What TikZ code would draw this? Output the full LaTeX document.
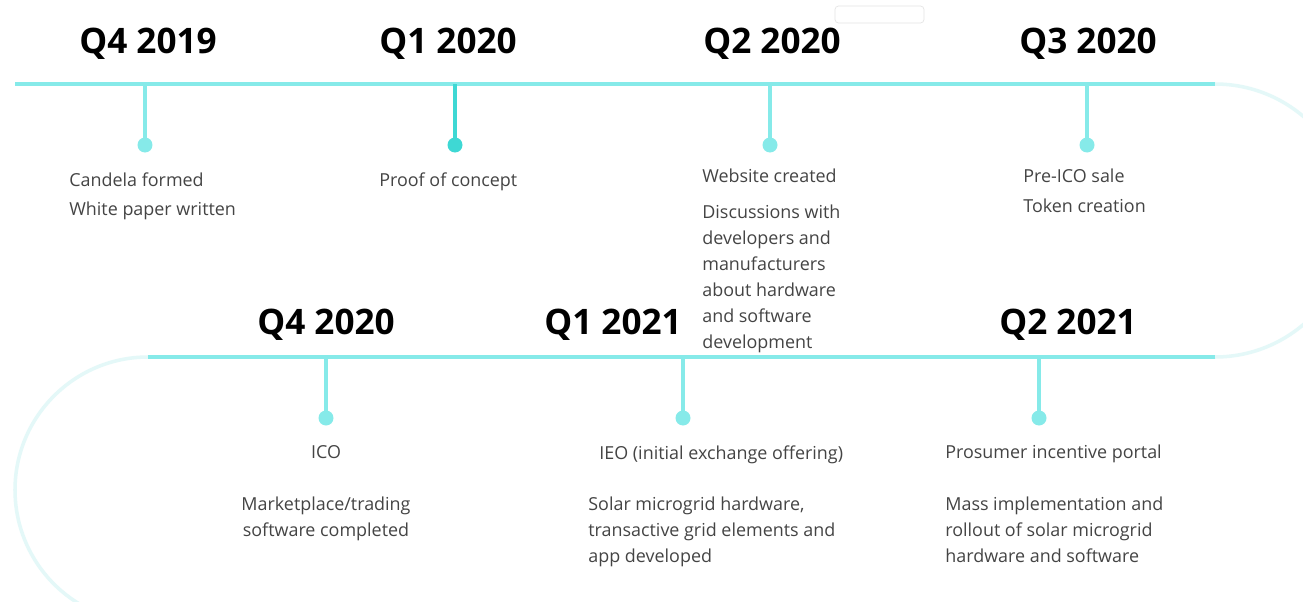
\documentclass[tikz,border=0pt]{standalone}
\usepackage{fontspec}
\setmainfont{Open Sans}
\usepackage{tikz}
\definecolor{tealline}{HTML}{86EAE9}
\definecolor{tealdark}{HTML}{3ED8D4}
\definecolor{tealfaint}{HTML}{E4F8F8}
\definecolor{bodygray}{HTML}{444444}

\begin{document}
\begin{tikzpicture}[x=0.02cm,y=-0.02cm,
    quarter/.style={font=\fontsize{20}{24}\selectfont\bfseries, anchor=base, inner sep=0pt},
    item/.style={font=\fontsize{10.2}{14.8}\selectfont, text=bodygray, inner sep=0pt, align=left, anchor=north west},
    itemc/.style={item, align=center, anchor=north},
    dot/.style={circle, fill=tealline, inner sep=0pt, minimum size=0.3cm},
    stem/.style={draw=tealline, line width=2.1pt},
    track/.style={draw=tealline, line width=2.8pt},
    loopline/.style={draw=tealfaint, line width=2pt}]
            \useasboundingbox (0,0) rectangle (1303,602);
            \fill[white] (0,0) rectangle (1303,602);

            % faint bends joining the two rows
            \begin{scope}
                \clip (0,0) rectangle (1303,602);
                \draw[loopline] (1215,84) arc[start angle=-90, end angle=90, radius=136.5];
                \draw[loopline] (148,357) arc[start angle=-90, end angle=-250, radius=133];
            \end{scope}
            \draw[gray!20, rounded corners=2pt] (835,6) rectangle (924,23);

            % upper row
            \coordinate (ta) at (15,84);
            \coordinate (tb) at (1215,84);
            \draw[track] (ta) -- (tb);
            \coordinate (t1) at (145,84);
            \coordinate (t2) at (455,84);
            \coordinate (t3) at (770,84);
            \coordinate (t4) at (1087,84);
            \node[dot] (d1) at (145,145) {};
            \node[dot, fill=tealdark] (d2) at (455,145) {};
            \node[dot] (d3) at (770,145) {};
            \node[dot] (d4) at (1087,145) {};
            \draw[stem] (t1) -- (d1.center);
            \draw[stem, draw=tealdark] (t2) -- (d2.center);
            \draw[stem] (t3) -- (d3.center);
            \draw[stem] (t4) -- (d4.center);

            \node[quarter] (q1) at (148,53) {Q4 2019};
            \node[quarter] (q2) at (448,53) {Q1 2020};
            \node[quarter] (q3) at (772,53) {Q2 2020};
            \node[quarter] (q4) at (1088,53) {Q3 2020};

            \node[item] (c1) at (69,172) {Candela formed\\[2pt]White paper written};
            \node[item] (c2) at (379,172) {Proof of concept};
            \node[item] (c3) at (702,169) {Website created};
            \node[item] (c3b) at (702,205) {Discussions with\\developers and\\manufacturers\\about hardware\\and software\\development};
            \node[item] (c4) at (1023,169) {Pre-ICO sale\\[2pt]Token creation};

            % lower row
            \coordinate (ba) at (148,357);
            \coordinate (bb) at (1215,357);
            \draw[track] (ba) -- (bb);
            \coordinate (b5) at (326,357);
            \coordinate (b6) at (683,357);
            \coordinate (b7) at (1039,357);
            \node[dot] (d5) at (326,418) {};
            \node[dot] (d6) at (683,418) {};
            \node[dot] (d7) at (1039,418) {};
            \draw[stem] (b5) -- (d5.center);
            \draw[stem] (b6) -- (d6.center);
            \draw[stem] (b7) -- (d7.center);

            \node[quarter] (q5) at (326,334) {Q4 2020};
            \node[quarter] (q6) at (613,334) {Q1 2021};
            \node[quarter] (q7) at (1068,334) {Q2 2021};

            \node[itemc] (c5) at (326,445) {ICO};
            \node[itemc] (c5b) at (326,497) {Marketplace/trading\\software completed};
            \node[item] (c6) at (599,445) {IEO (initial exchange offering)};
            \node[item] (c6b) at (588,497) {Solar microgrid hardware,\\transactive grid elements and\\app developed};
            \node[item] (c7) at (945,445) {Prosumer incentive portal};
            \node[item] (c7b) at (945,497) {Mass implementation and\\rollout of solar microgrid\\hardware and software};
         \end{tikzpicture}
\end{document}
